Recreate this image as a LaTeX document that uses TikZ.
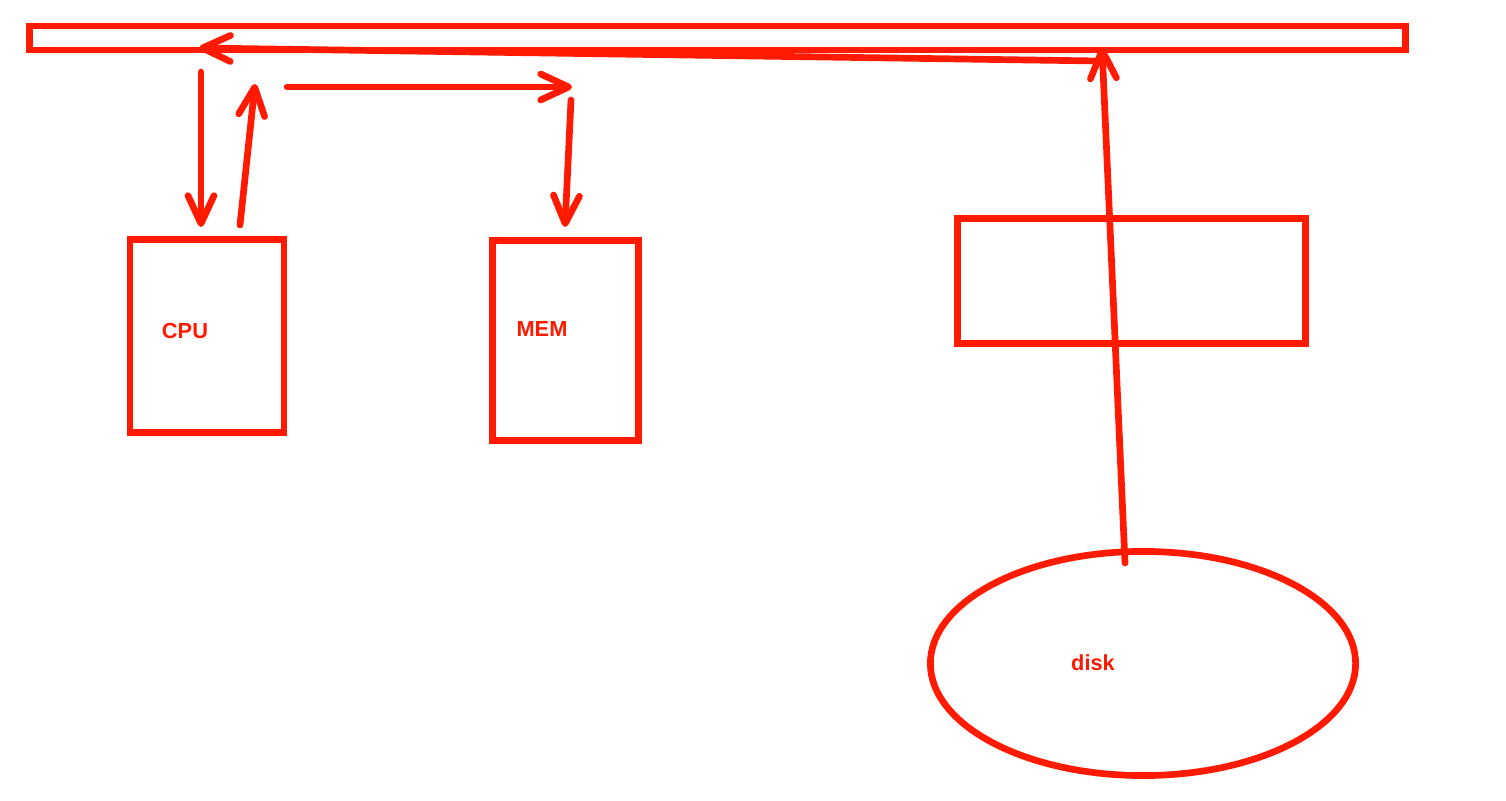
\documentclass[tikz,border=0pt]{standalone}
\usepackage{fontspec}
\setmainfont{Liberation Sans}
\usetikzlibrary{arrows.meta,shapes.geometric}
\definecolor{pen}{RGB}{255,26,0}
\begin{document}
\begin{tikzpicture}[x=0.01cm,y=-0.01cm,
  box/.style = {draw=pen, line width=1.9pt, rectangle, inner sep=0pt},
  txt/.style = {text=pen, font=\fontsize{6.2}{7}\selectfont\bfseries, inner sep=0pt},
  arr/.style = {draw=pen, line width=1.9pt, line cap=round,
    -{Straight Barb[length=0.28cm,width=0.26cm,round]}}]
\useasboundingbox[fill=white] (0,0) rectangle (1506,801);
\node[box] (bus) at (717.5,38) [minimum width=13.75cm, minimum height=0.24cm] {};
\node[box] (cpu) at (207,336) [minimum width=1.54cm, minimum height=1.93cm] {};
\node[box] (mem) at (565.5,340.5) [minimum width=1.46cm, minimum height=2cm] {};
\node[box] (blank) at (1131.5,281) [minimum width=3.48cm, minimum height=1.25cm] {};
\node[box, ellipse] (disk) at (1143,663.5) [minimum width=4.25cm, minimum height=2.24cm] {};
\node[txt] (cputext) at (185,331) {CPU};
\node[txt] (memtext) at (542,329) {MEM};
\node[txt] (disktext) at (1093,663) {disk};
% arrow ends
\coordinate (c1) at (201,72);
\coordinate (c2) at (201,227);
\coordinate (c3) at (240,225);
\coordinate (c4) at (255,84);
\coordinate (m1) at (287,87);
\coordinate (m2) at (572,87);
\coordinate (m3) at (571,100);
\coordinate (m4) at (565,227);
\coordinate (d1) at (1125,563);
\coordinate (d2) at (1102,47);
\coordinate (b1) at (1098,61);
\coordinate (b2) at (199,48);
\draw[arr] (c1) -- (c2);
\draw[arr] (c3) -- (c4);
\draw[arr] (m1) -- (m2);
\draw[arr] (m3) -- (m4);
\draw[arr] (d1) -- (d2);
\draw[arr] (b1) -- (b2);
\end{tikzpicture}
\end{document}
